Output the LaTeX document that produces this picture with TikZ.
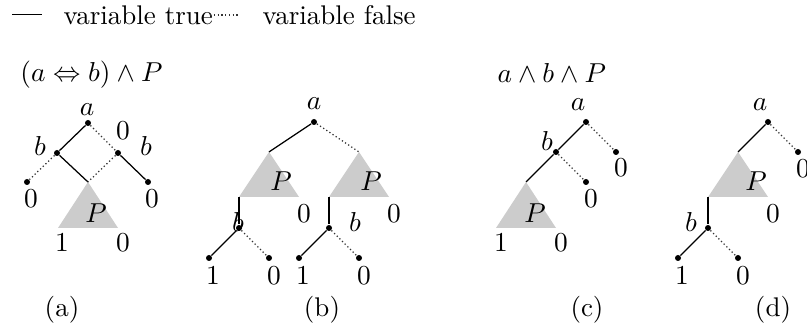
\documentclass[tikz,border=0pt]{standalone}
\usetikzlibrary{calc}
\begin{document}
\begin{tikzpicture}[x=0.4pt,y=-0.4pt,
  every node/.style={font=\fontsize{10.8}{13}\selectfont},
  dot/.style={circle,fill=black,inner sep=0pt,minimum size=2.4pt},
  tedge/.style={line width=0.5pt},
  fedge/.style={line width=0.5pt,densely dotted,black!80},
  tri/.style={fill=black!20,draw=none},
  lbl/.style={inner sep=0pt}]
\useasboundingbox (0,0) rectangle (807,331);
% legend
\coordinate (l1) at (12,15); \coordinate (l2) at (42,15);
\draw[line width=0.4pt] (l1) -- (l2);
\node[lbl,anchor=west] (lt) at (63,15) {variable true};
\coordinate (l3) at (210,15); \coordinate (l4) at (240,15);
\draw[fedge] (l3) -- (l4);
\node[lbl,anchor=west] (lf) at (262,15) {variable false};
% ---------- (a)
\node[lbl,anchor=west] (ta) at (20,75) {$(a \Leftrightarrow b)\wedge P$};
\fill[tri] (88,182) coordinate (pa) -- (58,228) -- (118,228) -- cycle;
\node[lbl] (Pa) at (96,213) {$P$};
\node[dot] (a0) at (88,123) {};
\node[dot] (b1) at (57,153) {};
\node[dot] (b2) at (118,153) {};
\node[dot] (z1) at (27,182) {};
\node[dot] (z2) at (148,182) {};
\draw[tedge] (a0) -- (b1);
\draw[fedge] (a0) -- (b2);
\draw[tedge] (b1) -- (pa);
\draw[fedge] (b2) -- (pa);
\draw[fedge] (b1) -- (z1);
\draw[tedge] (b2) -- (z2);
\node[lbl] at (87,110) {$a$};
\node[lbl] at (40,146) {$b$};
\node[lbl] at (146,146) {$b$};
\node[lbl] at (123,131) {$0$};
\node[lbl] at (31,199) {$0$};
\node[lbl] at (152,199) {$0$};
\node[lbl] at (62,243) {$1$};
\node[lbl] at (123,243) {$0$};
\node[lbl] (ca) at (62,310) {(a)};
% ---------- (b)
\fill[tri] (269,152) coordinate (pb1) -- (239,197) coordinate (pb1l) -- (299,197) -- cycle;
\fill[tri] (359,152) coordinate (pb2) -- (329,197) coordinate (pb2l) -- (389,197) -- cycle;
\node[lbl] at (281,181) {$P$};
\node[lbl] at (371,181) {$P$};
\node[dot] (ba) at (314,122) {};
\node[dot] (bb1) at (239,228) {};
\node[dot] (bb2) at (329,228) {};
\node[dot] (bl1) at (209,258) {};
\node[dot] (bl2) at (269,258) {};
\node[dot] (bl3) at (299,258) {};
\node[dot] (bl4) at (359,258) {};
\draw[tedge] (ba) -- (pb1);
\draw[fedge] (ba) -- (pb2);
\draw[tedge] (pb1l) -- (bb1);
\draw[tedge] (pb2l) -- (bb2);
\draw[tedge] (bb1) -- (bl1);
\draw[fedge] (bb1) -- (bl2);
\draw[tedge] (bb2) -- (bl3);
\draw[fedge] (bb2) -- (bl4);
\node[lbl] at (314,104) {$a$};
\node[lbl] at (304,214) {$0$};
\node[lbl] at (394,214) {$0$};
\node[lbl] at (238,222) {$b$};
\node[lbl] at (355,222) {$b$};
\node[lbl] at (213,276) {$1$};
\node[lbl] at (274,276) {$0$};
\node[lbl] at (303,276) {$1$};
\node[lbl] at (364,276) {$0$};
\node[lbl] (cb) at (322,310) {(b)};
% ---------- (c)
\node[lbl,anchor=west] (tc) at (497,73) {$a\wedge b\wedge P$};
\fill[tri] (526,182) coordinate (pc) -- (496,228) -- (556,228) -- cycle;
\node[lbl] at (535,213) {$P$};
\node[dot] (ca0) at (586,122) {};
\node[dot] (cb0) at (556,152) {};
\node[dot] (cz1) at (616,152) {};
\node[dot] (cz2) at (586,182) {};
\draw[tedge] (ca0) -- (cb0);
\draw[fedge] (ca0) -- (cz1);
\draw[tedge] (cb0) -- (pc);
\draw[fedge] (cb0) -- (cz2);
\node[lbl] at (578,105) {$a$};
\node[lbl] at (547,141) {$b$};
\node[lbl] at (621,168) {$0$};
\node[lbl] at (591,199) {$0$};
\node[lbl] at (501,243) {$1$};
\node[lbl] at (561,243) {$0$};
\node[lbl] (cc) at (587,310) {(c)};
% ---------- (d)
\fill[tri] (738,152) coordinate (pd) -- (708,197) coordinate (pdl) -- (768,197) -- cycle;
\node[lbl] at (756,181) {$P$};
\node[dot] (da) at (768,122) {};
\node[dot] (dz) at (798,152) {};
\node[dot] (db) at (708,228) {};
\node[dot] (dl1) at (678,258) {};
\node[dot] (dl2) at (738,258) {};
\draw[tedge] (da) -- (pd);
\draw[fedge] (da) -- (dz);
\draw[tedge] (pdl) -- (db);
\draw[tedge] (db) -- (dl1);
\draw[fedge] (db) -- (dl2);
\node[lbl] at (760,105) {$a$};
\node[lbl] at (803,169) {$0$};
\node[lbl] at (773,214) {$0$};
\node[lbl] at (691,222) {$b$};
\node[lbl] at (682,276) {$1$};
\node[lbl] at (743,276) {$0$};
\node[lbl] (cd) at (773,310) {(d)};
\end{tikzpicture}
\end{document}
